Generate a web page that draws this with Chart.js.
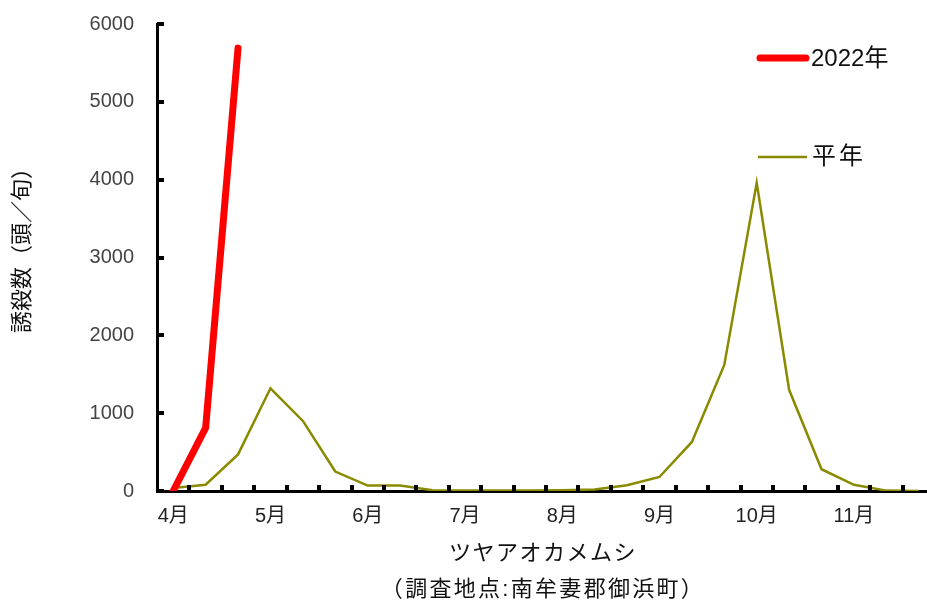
<!DOCTYPE html>
<html lang="ja">
<head>
<meta charset="UTF-8">
<title>ツヤアオカメムシ 誘殺数</title>
<script src="https://cdn.jsdelivr.net/npm/chart.js"></script>
<style>
  body { margin: 0; background: #fff; overflow: hidden; }
  #wrap { width: 927px; height: 604px; overflow: hidden; }
</style>
</head>
<body>
<div id="wrap"><canvas id="kamemushiChart" width="935" height="604"></canvas></div>
<script>
// 旬ごとの区分（4月上旬〜11月下旬）
const months = ['4月', '5月', '6月', '7月', '8月', '9月', '10月', '11月'];
const periods = ['上旬', '中旬', '下旬'];
const categories = [];
months.forEach(m => periods.forEach(p => categories.push(m + p)));

// 誘殺数（頭/旬）
const heinen = [40, 80, 470, 1320, 900, 250, 70, 70, 10, 5, 5, 5, 10, 20, 75, 180, 630, 1620, 3960, 1300, 280, 80, 5, 0];
const y2022 = [0, 810, 5690];

const yTicks = [0, 1000, 2000, 3000, 4000, 5000, 6000];

const FONT = "'Liberation Sans', 'Noto Sans CJK JP', sans-serif";

// 内向きの目盛り、凡例、軸タイトル
const extras = {
    id: 'extras',
    afterDraw(chart) {
        const ctx = chart.ctx;
        const area = chart.chartArea;
        const x = chart.scales.x;
        const y = chart.scales.y;
        ctx.save();
        ctx.fillStyle = '#000';
        // x 目盛り（区分の境目）
        const step = (x.right - x.left) / categories.length;
        for (let i = 1; i < categories.length; i++) {
            const px = Math.round(x.left + i * step);
            ctx.fillRect(px - 2, area.bottom - 6, 4, 6);
        }
        // y 目盛り
        yTicks.forEach(v => {
            const py = Math.round(y.getPixelForValue(v));
            ctx.fillRect(area.left, py - 2, 7, 4);
        });

        // 凡例
        ctx.lineCap = 'round';
        ctx.strokeStyle = '#ff0000';
        ctx.lineWidth = 7;
        ctx.beginPath(); ctx.moveTo(760, 58); ctx.lineTo(806, 58); ctx.stroke();
        ctx.lineCap = 'butt';
        ctx.strokeStyle = '#8a8a00';
        ctx.lineWidth = 2.5;
        ctx.beginPath(); ctx.moveTo(758, 157); ctx.lineTo(807, 157); ctx.stroke();

        ctx.fillStyle = '#111';
        ctx.font = '24px ' + FONT;
        ctx.textAlign = 'left';
        ctx.textBaseline = 'middle';
        ctx.fillText('2022年', 811, 59);
        ctx.letterSpacing = '3px';
        ctx.fillText('平年', 812, 157);

        // x 軸タイトル
        ctx.textAlign = 'center';
        ctx.font = '22px ' + FONT;
        ctx.letterSpacing = '1.5px';
        ctx.fillText('ツヤアオカメムシ', 543, 554);
        ctx.letterSpacing = '2.3px';
        ctx.fillText('（調査地点:南牟妻郡御浜町）', 543, 590);

        // y 軸タイトル
        ctx.translate(23, 245);
        ctx.rotate(-Math.PI / 2);
        ctx.font = '22px ' + FONT;
        ctx.letterSpacing = '0px';
        ctx.fillText('誘殺数（頭／旬）', 0, 0);
        ctx.restore();
    }
};

new Chart(document.getElementById('kamemushiChart'), {
    type: 'line',
    data: {
        labels: categories,
        datasets: [
            {
                label: '2022年',
                data: y2022,
                borderColor: '#ff0000',
                borderWidth: 7,
                borderCapStyle: 'round',
                borderJoinStyle: 'round',
                pointRadius: 0,
                fill: false,
                order: 0
            },
            {
                label: '平年',
                data: heinen,
                borderColor: '#8a8a00',
                borderWidth: 2.5,
                pointRadius: 0,
                fill: false,
                order: 1
            }
        ]
    },
    options: {
        responsive: false,
        animation: false,
        devicePixelRatio: 1,
        layout: { padding: { top: 24, right: 0, bottom: 0, left: 0 } },
        plugins: {
            legend: { display: false },
            tooltip: { enabled: false }
        },
        scales: {
            x: {
                type: 'category',
                offset: true,
                grid: { display: false, offset: true, drawTicks: false },
                border: { display: true, color: '#000', width: 3 },
                ticks: {
                    autoSkip: false,
                    maxRotation: 0,
                    padding: 13,
                    color: '#222',
                    font: { family: FONT, size: 20 },
                    callback: (v, i) => i % 3 === 0 ? months[i / 3] : ''
                },
                afterFit: s => { s.height = 113; }
            },
            y: {
                min: 0,
                max: 6000,
                grid: { display: false, drawTicks: false },
                border: { display: true, color: '#000', width: 3 },
                ticks: {
                    stepSize: 1000,
                    padding: 23,
                    color: '#444',
                    font: { family: FONT, size: 20 },
                    callback: v => String(v)
                },
                afterFit: s => { s.width = 157; s.paddingTop = 0; s.paddingBottom = 0; }
            }
        }
    },
    plugins: [extras]
});
</script>
</body>
</html>
